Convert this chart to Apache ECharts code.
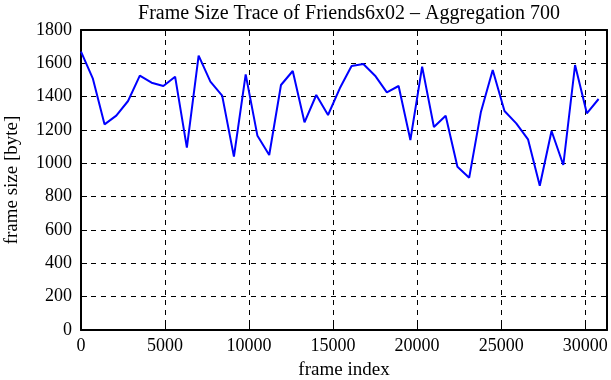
<!DOCTYPE html>
<html><head><meta charset="utf-8">
<script src="https://cdn.jsdelivr.net/npm/echarts@6/dist/echarts.min.js"></script>
<style>html,body{margin:0;padding:0;background:#fff}#c{width:611px;height:380px}</style>
</head><body><div id="c"></div>
<script>
const frameStep = 700;
const frameSizes = [1670,1510,1234,1286,1374,1526,1484,1464,1520,1094,1646,1490,1406,1040,1534,1165,
  1050,1470,1554,1246,1410,1290,1450,1584,1596,1526,1426,1464,1140,1580,1218,
  1286,980,914,1310,1560,1314,1240,1144,865,1194,990,1590,1300,1386];
const xTicks = [0,5000,10000,15000,20000,25000,30000];
const yTicks = [0,200,400,600,800,1000,1200,1400,1600,1800];
const data = frameSizes.map((v,i)=>[i*frameStep, v]);
const font = 'Liberation Serif';
const chart = echarts.init(document.getElementById('c'));
const dash = {show:true, lineStyle:{color:'#000', type:[5,5], width:1}};
chart.setOption({
  animation:false,
  title:{text:'Frame Size Trace of Friends6x02 \u2013 Aggregation 700', left:344, top:-1, textAlign:'center',
    textStyle:{fontFamily:font, fontWeight:'normal', fontSize:20, color:'#000'}},
  grid:{left:81, right:4, top:30, bottom:50, show:false, containLabel:false, outerBoundsMode:'none'},
  xAxis:[{type:'value', min:0, max:31300, interval:5000, name:'frame index', nameLocation:'middle', nameGap:31,
    nameTextStyle:{fontFamily:font, fontSize:19, color:'#000'},
    axisLine:{show:true, onZero:false, lineStyle:{color:'#000', width:2}},
    axisTick:{show:true, inside:true, length:6, lineStyle:{color:'#000'}},
    axisLabel:{fontFamily:font, fontSize:18, color:'#000', margin:7, showMaxLabel:false,
      formatter:v=>xTicks.includes(v)?String(v):''},
    splitLine:dash},
   {type:'value', position:'top', min:0, max:31300, interval:5000,
    axisLine:{show:true, onZero:false, lineStyle:{color:'#000', width:2}},
    axisTick:{show:true, inside:true, length:6, lineStyle:{color:'#000'}},
    axisLabel:{show:false}, splitLine:{show:false}}],
  yAxis:[{type:'value', min:0, max:1800, interval:200, name:'frame size [byte]', nameLocation:'middle', nameGap:59,
    nameTextStyle:{fontFamily:font, fontSize:19, color:'#000'},
    axisLine:{show:true, onZero:false, lineStyle:{color:'#000', width:2}},
    axisTick:{show:true, inside:true, length:6, lineStyle:{color:'#000'}},
    axisLabel:{fontFamily:font, fontSize:18, color:'#000', margin:9,
      formatter:v=>yTicks.includes(v)?String(v):''},
    splitLine:dash},
   {type:'value', position:'right', min:0, max:1800, interval:200,
    axisLine:{show:true, onZero:false, lineStyle:{color:'#000', width:2}},
    axisTick:{show:true, inside:true, length:6, lineStyle:{color:'#000'}},
    axisLabel:{show:false}, splitLine:{show:false}}],
  series:[{type:'line', data:data, showSymbol:false, symbol:'none',
    lineStyle:{color:'#0000ff', width:2}, z:5}]
});
</script></body></html>
